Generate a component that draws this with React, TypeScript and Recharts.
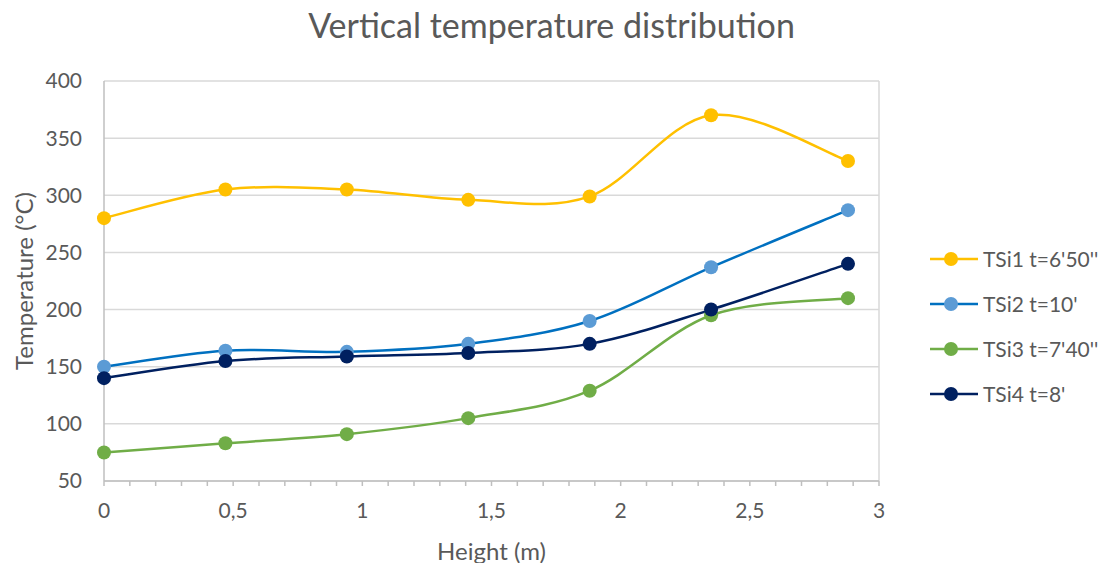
import React from "react";
import { LineChart, Line, XAxis, YAxis, CartesianGrid, Legend, ReferenceLine } from "recharts";

const heights = [0, 0.47, 0.94, 1.41, 1.88, 2.35, 2.88];
const tsi1 = [280, 305, 305, 296, 299, 370, 330];
const tsi2 = [150, 164, 163, 170, 190, 237, 287];
const tsi3 = [75, 83, 91, 105, 129, 195, 210];
const tsi4 = [140, 155, 159, 162, 170, 200, 240];

const seriesNames = ["TSi1 t=6'50''", "TSi2 t=10'", "TSi3 t=7'40''", "TSi4 t=8'"];
const xTicks = [
  0, 0.1, 0.2, 0.3, 0.4, 0.5, 0.6, 0.7, 0.8, 0.9, 1, 1.1, 1.2, 1.3, 1.4, 1.5,
  1.6, 1.7, 1.8, 1.9, 2, 2.1, 2.2, 2.3, 2.4, 2.5, 2.6, 2.7, 2.8, 2.9, 3,
];
const xLabels = [0, 0.5, 1, 1.5, 2, 2.5, 3];
const yTicks = [50, 100, 150, 200, 250, 300, 350, 400];

const FONT = "Lato, 'Open Sans', sans-serif";
const TEXT = "#595959";

const series = [
  { key: "s1", name: seriesNames[0], values: tsi1, line: "#FFC000", dot: "#FFC000" },
  { key: "s2", name: seriesNames[1], values: tsi2, line: "#0070C0", dot: "#5B9BD5" },
  { key: "s3", name: seriesNames[2], values: tsi3, line: "#70AD47", dot: "#70AD47" },
  { key: "s4", name: seriesNames[3], values: tsi4, line: "#002060", dot: "#002060" },
];

const data = heights.map((h, i) => {
  const row: Record<string, number> = { h };
  series.forEach((s) => (row[s.key] = s.values[i]));
  return row;
});

// Excel-style smoothed line: uniform Catmull-Rom turned into cubic beziers
function smoothCurve(context: any) {
  let pts: number[][] = [];
  return {
    areaStart() {},
    areaEnd() {},
    lineStart() {
      pts = [];
    },
    point(x: number, y: number) {
      pts.push([+x, +y]);
    },
    lineEnd() {
      const n = pts.length;
      if (!n) return;
      context.moveTo(pts[0][0], pts[0][1]);
      for (let i = 0; i < n - 1; i++) {
        const p0 = pts[i - 1] || pts[i];
        const p1 = pts[i];
        const p2 = pts[i + 1];
        const p3 = pts[i + 2] || p2;
        context.bezierCurveTo(
          p1[0] + (p2[0] - p0[0]) / 6,
          p1[1] + (p2[1] - p0[1]) / 6,
          p2[0] - (p3[0] - p1[0]) / 6,
          p2[1] - (p3[1] - p1[1]) / 6,
          p2[0],
          p2[1],
        );
      }
    },
  };
}

const fmtX = (v: number) => (xLabels.some((t) => Math.abs(t - v) < 1e-9) ? String(v).replace(".", ",") : "");

function LegendBox() {
  return (
    <div style={{ width: 173, fontFamily: FONT, fontSize: 21, color: TEXT }}>
      {series.map((s) => (
        <div key={s.key} style={{ height: 45, display: "flex", alignItems: "center" }}>
          <svg width={53} height={20} style={{ flex: "none" }}>
            <line x1={0} x2={48} y1={10} y2={10} stroke={s.line} strokeWidth={2.5} />
            <circle cx={21} cy={10} r={7} fill={s.dot} />
          </svg>
          <span style={{ whiteSpace: "nowrap" }}>{s.name}</span>
        </div>
      ))}
    </div>
  );
}

export default function App() {
  return (
    <div style={{ position: "absolute", left: 0, top: 0, width: 1103, height: 563, background: "#fff" }}>
      <div
        style={{
          position: "absolute",
          left: 0,
          top: 4,
          width: 1103,
          textAlign: "center",
          fontFamily: FONT,
          fontSize: 34,
          color: TEXT,
          zIndex: 2,
        }}
      >
        Vertical temperature distribution
      </div>
      <LineChart width={1103} height={563} data={data} margin={{ top: 81, right: 51, bottom: 0, left: 0 }}>
        <CartesianGrid stroke="#d9d9d9" strokeWidth={1.5} vertical={false} />
        <XAxis
          dataKey="h"
          type="number"
          domain={[0, 3]}
          ticks={xTicks}
          interval={0}
          tickFormatter={fmtX}
          height={82}
          stroke="#bfbfbf"
          strokeWidth={1.5}
          tickSize={5}
          tickMargin={17}
          tick={{ fill: TEXT, fontSize: 21, fontFamily: FONT }}
          label={{
            content: (props: any) => {
              const vb = props.viewBox;
              return (
                <text x={vb.x + vb.width / 2} y={vb.y + 69} textAnchor="middle" dominantBaseline="central" fill={TEXT} fontSize={24} fontFamily={FONT}>
                  Height (m)
                </text>
              );
            },
          }}
        />
        <YAxis
          type="number"
          domain={[50, 400]}
          ticks={yTicks}
          interval={0}
          width={104}
          stroke="#bfbfbf"
          strokeWidth={1.5}
          tickLine={false}
          tickSize={0}
          tickMargin={22}
          tick={{ fill: TEXT, fontSize: 21, fontFamily: FONT }}
          label={{
            content: (props: any) => {
              const vb = props.viewBox;
              const cx = vb.x + 23;
              const cy = vb.y + vb.height / 2;
              return (
                <text x={cx} y={cy} transform={`rotate(-90 ${cx} ${cy})`} textAnchor="middle" dominantBaseline="central" fill={TEXT} fontSize={24} fontFamily={FONT}>
                  Temperature (°C)
                </text>
              );
            },
          }}
        />
        <ReferenceLine x={3} stroke="#d9d9d9" strokeWidth={1.5} />
        <Legend
          layout="vertical"
          align="right"
          verticalAlign="middle"
          content={() => <LegendBox />}
          wrapperStyle={{ left: 930, top: 236, right: "auto", width: 173 }}
        />
        {series.map((s) => (
          <Line
            key={s.key}
            dataKey={s.key}
            name={s.name}
            type={smoothCurve as any}
            stroke={s.line}
            strokeWidth={2.5}
            dot={{ r: 7, fill: s.dot, stroke: "none" }}
            activeDot={false}
            isAnimationActive={false}
          />
        ))}
      </LineChart>
    </div>
  );
}
